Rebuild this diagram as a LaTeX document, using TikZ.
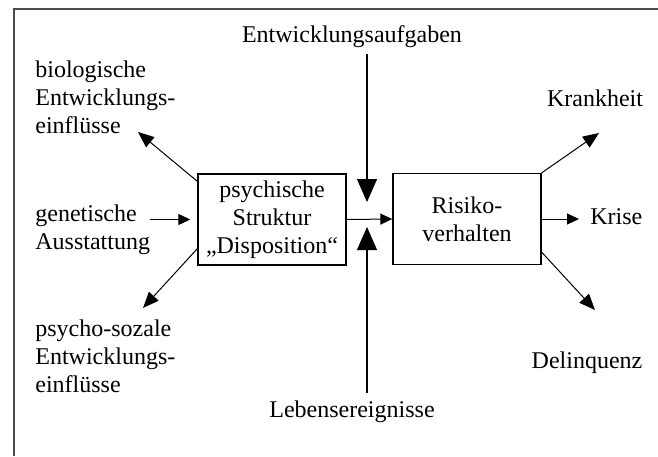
\documentclass[tikz,border=0pt]{standalone}
\usepackage{fontspec}
\setmainfont{Liberation Serif}
\usepackage{tikz}
\usetikzlibrary{positioning, arrows.meta, shapes}

\begin{document}
\begin{tikzpicture}[x=0.5pt, y=-0.5pt, font=\fontsize{12}{14}\selectfont,
    kasten/.style={draw, line width=0.7pt, minimum width=74pt, minimum height=45.5pt, align=center, inner sep=0pt},
    etikett/.style={inner sep=0pt, align=left, anchor=north west},
    pfeil/.style={line width=0.5pt, -{Triangle[length=6pt, width=5.5pt]}},
    schraeg/.style={line width=0.5pt, -{Triangle[length=8pt, width=6.5pt]}},
    gross/.style={line width=0.6pt, -{Triangle[length=11.5pt, width=10pt]}}]
        \useasboundingbox (0,0) rectangle (658,456);
        \draw[black!70, line width=1pt] (658,8.5) -- (13.5,8.5) -- (13.5,456);
        % die beiden Kaesten
        \node[kasten] (psy) at (272,219.5) {psychische\\Struktur\\„Disposition“};
        \node[kasten] (risiko) at (467,219) {Risiko-\\verhalten};
        % Beschriftungen
        \node[anchor=base] (aufgaben) at (352,42) {Entwicklungsaufgaben};
        \node[anchor=base] (leben) at (352,417) {Lebensereignisse};
        \node[anchor=base] (krank) at (595,106) {Krankheit};
        \node[anchor=base west, inner sep=0pt] (krise) at (590,224) {Krise};
        \node[anchor=base] (delinq) at (587,368) {Delinquenz};
        \node[etikett] (bio) at (35,60) {biologische\\Entwicklungs-\\einflüsse};
        \node[etikett] (gen) at (35,204) {genetische\\Ausstattung};
        \node[etikett] (sozial) at (35,319) {psycho-sozale\\Entwicklungs-\\einflüsse};
        % Pfeilspitzen
        \coordinate (oben) at (367,202); \coordinate (unten) at (367,227);
        \coordinate (tipbio) at (138,132); \coordinate (tipsoz) at (143,308);
        \coordinate (tipkrank) at (599,133); \coordinate (tipkrise) at (579,219);
        \coordinate (tipdel) at (595,310);
        \draw[gross] (aufgaben.south -| oben) -- (oben);
        \draw[gross] (leben.north -| unten) -- (unten);
        \draw[pfeil] (psy.east) -- (risiko.west);
        \draw[pfeil, shorten >=3.5pt] (gen.east |- psy.west) -- (psy.west);
        \draw[schraeg] ([yshift=-4pt]psy.north west) -- (tipbio);
        \draw[schraeg] ([yshift=8.5pt]psy.south west) -- (tipsoz);
        \draw[schraeg] (risiko.north east) -- (tipkrank);
        \draw[pfeil] (risiko.east) -- (tipkrise);
        \draw[schraeg] ([yshift=6.5pt]risiko.south east) -- (tipdel);
    \end{tikzpicture}
\end{document}
